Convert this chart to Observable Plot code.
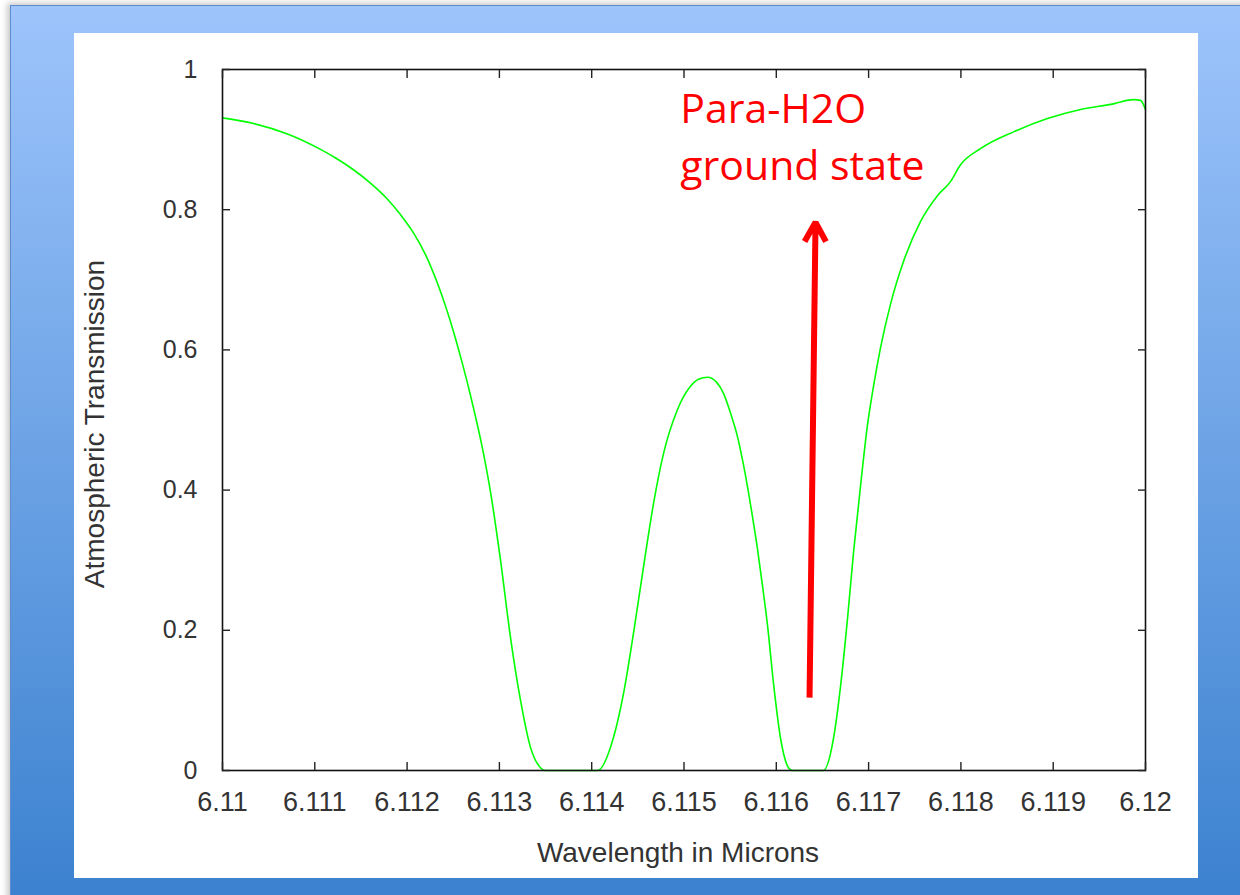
<!DOCTYPE html>
<html><head><meta charset="utf-8">
<script src="https://cdn.jsdelivr.net/npm/d3@7"></script>
<script src="https://cdn.jsdelivr.net/npm/@observablehq/plot@0.6"></script>
<style>
html,body{margin:0;padding:0;background:#fff;width:1240px;height:895px;overflow:hidden;}
#bg{position:absolute;left:10px;top:5px;width:1260px;height:900px;background:linear-gradient(to bottom,#9dc4fb 0%,#3b81cf 100%);border:1px solid #5d8ccb;box-shadow:-3px -2px 6px rgba(0,0,0,0.22);}
#panel{position:absolute;left:74px;top:33px;width:1124px;height:845px;background:#fff;}
#panel svg{display:block;}
</style></head>
<body><div id="bg"></div><div id="panel"></div>
<script>
const wavelength = [6.11000,6.110336,6.110704,6.111062,6.111235,6.111419,6.111603,6.111788,6.111928,6.112069,6.112199,6.112329,6.112503,6.112600,6.112687,6.112828,6.112904,6.113012,6.113120,6.113229,6.113337,6.113445,6.113500,6.114063,6.114236,6.114345,6.114453,6.114561,6.114670,6.114778,6.114930,6.115070,6.115157,6.115255,6.115352,6.115428,6.115504,6.115580,6.115634,6.115688,6.115742,6.115796,6.115850,6.115905,6.115970,6.116046,6.116132,6.116175,6.116511,6.116620,6.116696,6.116771,6.116836,6.116912,6.116988,6.117053,6.117129,6.117237,6.117378,6.117562,6.117746,6.117887,6.117996,6.118212,6.118570,6.118938,6.119296,6.119653,6.119870,6.119946,6.120000];
const transmission = [0.931,0.923,0.908,0.886,0.873,0.857,0.838,0.815,0.793,0.767,0.736,0.695,0.626,0.580,0.535,0.452,0.397,0.300,0.190,0.100,0.033,0.004,0.000,0.000,0.047,0.110,0.196,0.290,0.381,0.452,0.515,0.548,0.558,0.561,0.554,0.538,0.510,0.476,0.443,0.405,0.362,0.316,0.264,0.207,0.124,0.046,0.004,0.000,0.000,0.046,0.120,0.216,0.310,0.405,0.493,0.548,0.603,0.665,0.726,0.783,0.820,0.840,0.864,0.887,0.911,0.930,0.943,0.951,0.957,0.956,0.943];
const xTicks = [6.11,6.111,6.112,6.113,6.114,6.115,6.116,6.117,6.118,6.119,6.12];
const yTicks = [0,0.2,0.4,0.6,0.8,1];
const xTitle = "Wavelength in Microns";
const yTitle = "Atmospheric Transmission";
const noteLines = ["Para-H2O", "ground state"];
const noteX = [6.11496];
const noteY = [0.982];
const arrowX = [6.116360, 6.116425];
const arrowY = [0.104, 0.782];

const series = wavelength.map((w, i) => ({w, t: transmission[i]}));
const font = "'Liberation Sans', Arial, sans-serif";

const chart = Plot.plot({
  width: 1124, height: 845,
  marginLeft: 148, marginRight: 53, marginTop: 36, marginBottom: 108,
  style: {fontFamily: font, color: "#333", background: "transparent", overflow: "visible"},
  x: {domain: [6.11, 6.12]},
  y: {domain: [0, 1]},
  marks: [
    Plot.line(series, {x: "w", y: "t", stroke: "#00ff00", strokeWidth: 1.6, curve: "monotone-x"}),
    Plot.frame({stroke: "#111", strokeWidth: 1.6}),
    // inward ticks on all four sides
    Plot.axisX(xTicks, {anchor: "bottom", tickSize: 8, dy: -8, fill: "none", label: null, stroke: "#222", strokeWidth: 1.4}),
    Plot.axisX(xTicks, {anchor: "top", tickSize: 8, dy: 8, fill: "none", label: null, stroke: "#222", strokeWidth: 1.4}),
    Plot.axisY(yTicks, {anchor: "left", tickSize: 8, dx: 8, fill: "none", label: null, stroke: "#222", strokeWidth: 1.4}),
    Plot.axisY(yTicks, {anchor: "right", tickSize: 8, dx: -8, fill: "none", label: null, stroke: "#222", strokeWidth: 1.4}),
    // tick labels
    Plot.axisX(xTicks, {anchor: "bottom", tickSize: 0, tickPadding: 21, label: null, fontSize: 27, tickFormat: d => String(d)}),
    Plot.axisY(yTicks, {anchor: "left", tickSize: 0, tickPadding: 25, label: null, fontSize: 25, tickFormat: d => String(d)}),
    // axis titles
    Plot.text([xTitle], {text: d => d, frameAnchor: "bottom", dx: -6, dy: 83, lineAnchor: "middle", fontSize: 28, fill: "#333"}),
    Plot.text([yTitle], {text: d => d, frameAnchor: "left", dx: -127, dy: 4, rotate: -90, lineAnchor: "middle", textAnchor: "middle", fontSize: 28, fill: "#333"}),
    // annotation
    Plot.arrow([0], {x1: () => arrowX[0], y1: () => arrowY[0], x2: () => arrowX[1], y2: () => arrowY[1], stroke: "#ff0000", strokeWidth: 6, headLength: 5.5, headAngle: 58, strokeLinecap: "butt"}),
    Plot.text([noteLines.join("\n")], {x: () => noteX[0], y: () => noteY[0], text: d => d, textAnchor: "start", lineAnchor: "top", lineHeight: 1.4, fontSize: 41, fontFamily: "'Open Sans', sans-serif", fill: "#ff0000"})
  ]
});
document.getElementById("panel").appendChild(chart);
</script>
</body></html>
